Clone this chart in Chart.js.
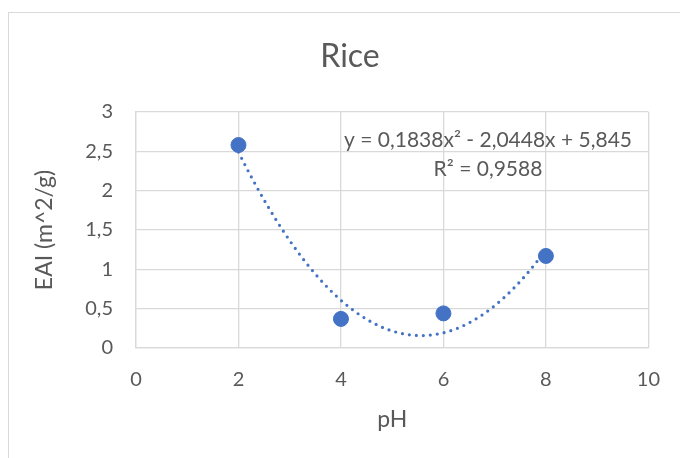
<!DOCTYPE html>
<html>
<head>
<meta charset="utf-8">
<script src="https://cdn.jsdelivr.net/npm/chart.js@4/dist/chart.umd.min.js"></script>
<style>
  html, body { margin: 0; padding: 0; background: #fff; overflow: hidden; }
  #wrap { position: relative; width: 680px; height: 458px; overflow: hidden; }
  #frame { position: absolute; left: 8px; top: 12px; width: 720px; height: 500px; border: 1px solid #d9d9d9; box-sizing: border-box; }
  #chart { position: absolute; left: 0; top: 0; }
</style>
</head>
<body>
<div id="wrap">
  <div id="frame"></div>
  <canvas id="chart" width="680" height="458"></canvas>
</div>
<script>
// measured EAI at each pH
const phValues = [2, 4, 6, 8];
const eaiValues = [2.58, 0.37, 0.44, 1.17];

// polynomial trendline y = c0 + c1*x + c2*x^2, as printed on the chart
const trendCoef = [5.845, -2.0448, 0.1838];
const trendRange = [2, 8];
const chartTitle = 'Rice';
const equationText = 'y = 0,1838x² - 2,0448x + 5,845';
const rSquaredText = 'R² = 0,9588';

const BLUE = '#4472C4';
const TEXT = '#595959';
const GRID = '#d9d9d9';
const FONT = 'Lato, "Open Sans", sans-serif';

function trendPoints() {
  const pts = [];
  const steps = 60;
  for (let i = 0; i <= steps; i++) {
    const x = trendRange[0] + (trendRange[1] - trendRange[0]) * i / steps;
    pts.push({ x, y: trendCoef[0] + trendCoef[1] * x + trendCoef[2] * x * x });
  }
  return pts;
}

function commaNum(v) {
  return String(v).replace('.', ',');
}

// title over the frame, plus the equation / R² label in the plot
const textLabels = {
  id: 'textLabels',
  afterDatasetsDraw(chart) {
    const { ctx, chartArea } = chart;
    ctx.save();
    ctx.fillStyle = TEXT;
    ctx.textAlign = 'center';
    ctx.textBaseline = 'middle';
    ctx.font = '32px ' + FONT;
    ctx.fillText(chartTitle, 350, 57);
    ctx.font = '21px ' + FONT;
    ctx.fillText(equationText, chartArea.left + 352, chartArea.top + 28);
    ctx.fillText(rSquaredText, chartArea.left + 352, chartArea.top + 57);
    ctx.restore();
  }
};

new Chart(document.getElementById('chart'), {
  type: 'scatter',
  data: {
    datasets: [
      {
        label: 'Trend',
        data: trendPoints(),
        showLine: true,
        borderColor: BLUE,
        borderWidth: 3.2,
        borderDash: [0, 7],
        borderCapStyle: 'round',
        pointRadius: 0,
        fill: false,
        order: 2
      },
      {
        label: 'EAI',
        data: phValues.map((x, i) => ({ x, y: eaiValues[i] })),
        backgroundColor: BLUE,
        borderColor: BLUE,
        pointRadius: 7.5,
        order: 1
      }
    ]
  },
  options: {
    responsive: false,
    animation: false,
    layout: { padding: { left: 0, right: 29, top: 112, bottom: 0 } },
    plugins: {
      legend: { display: false },
      tooltip: { enabled: false },
      title: { display: false }
    },
    scales: {
      x: {
        type: 'linear',
        min: 0,
        max: 10,
        ticks: { stepSize: 2, color: TEXT, font: { family: FONT, size: 20 }, padding: 20 },
        grid: { color: GRID, lineWidth: 1.3, drawTicks: false },
        border: { color: GRID, width: 1.3 },
        title: { display: true, text: 'pH', color: TEXT, font: { family: FONT, size: 23 }, padding: { top: 0, bottom: 25 } },
        afterFit(scale) { scale.height = 110; }
      },
      y: {
        min: 0,
        max: 3,
        ticks: { stepSize: 0.5, color: TEXT, font: { family: FONT, size: 20 }, padding: 23, callback: v => commaNum(v) },
        grid: { color: GRID, lineWidth: 1.3, drawTicks: false },
        border: { color: GRID, width: 1.3 },
        title: { display: true, text: 'EAI (m^2/g)', color: TEXT, font: { family: FONT, size: 23 }, padding: { top: 31, bottom: 0 } },
        afterFit(scale) { scale.width = 136; }
      }
    }
  },
  plugins: [textLabels]
});
</script>
</body>
</html>
